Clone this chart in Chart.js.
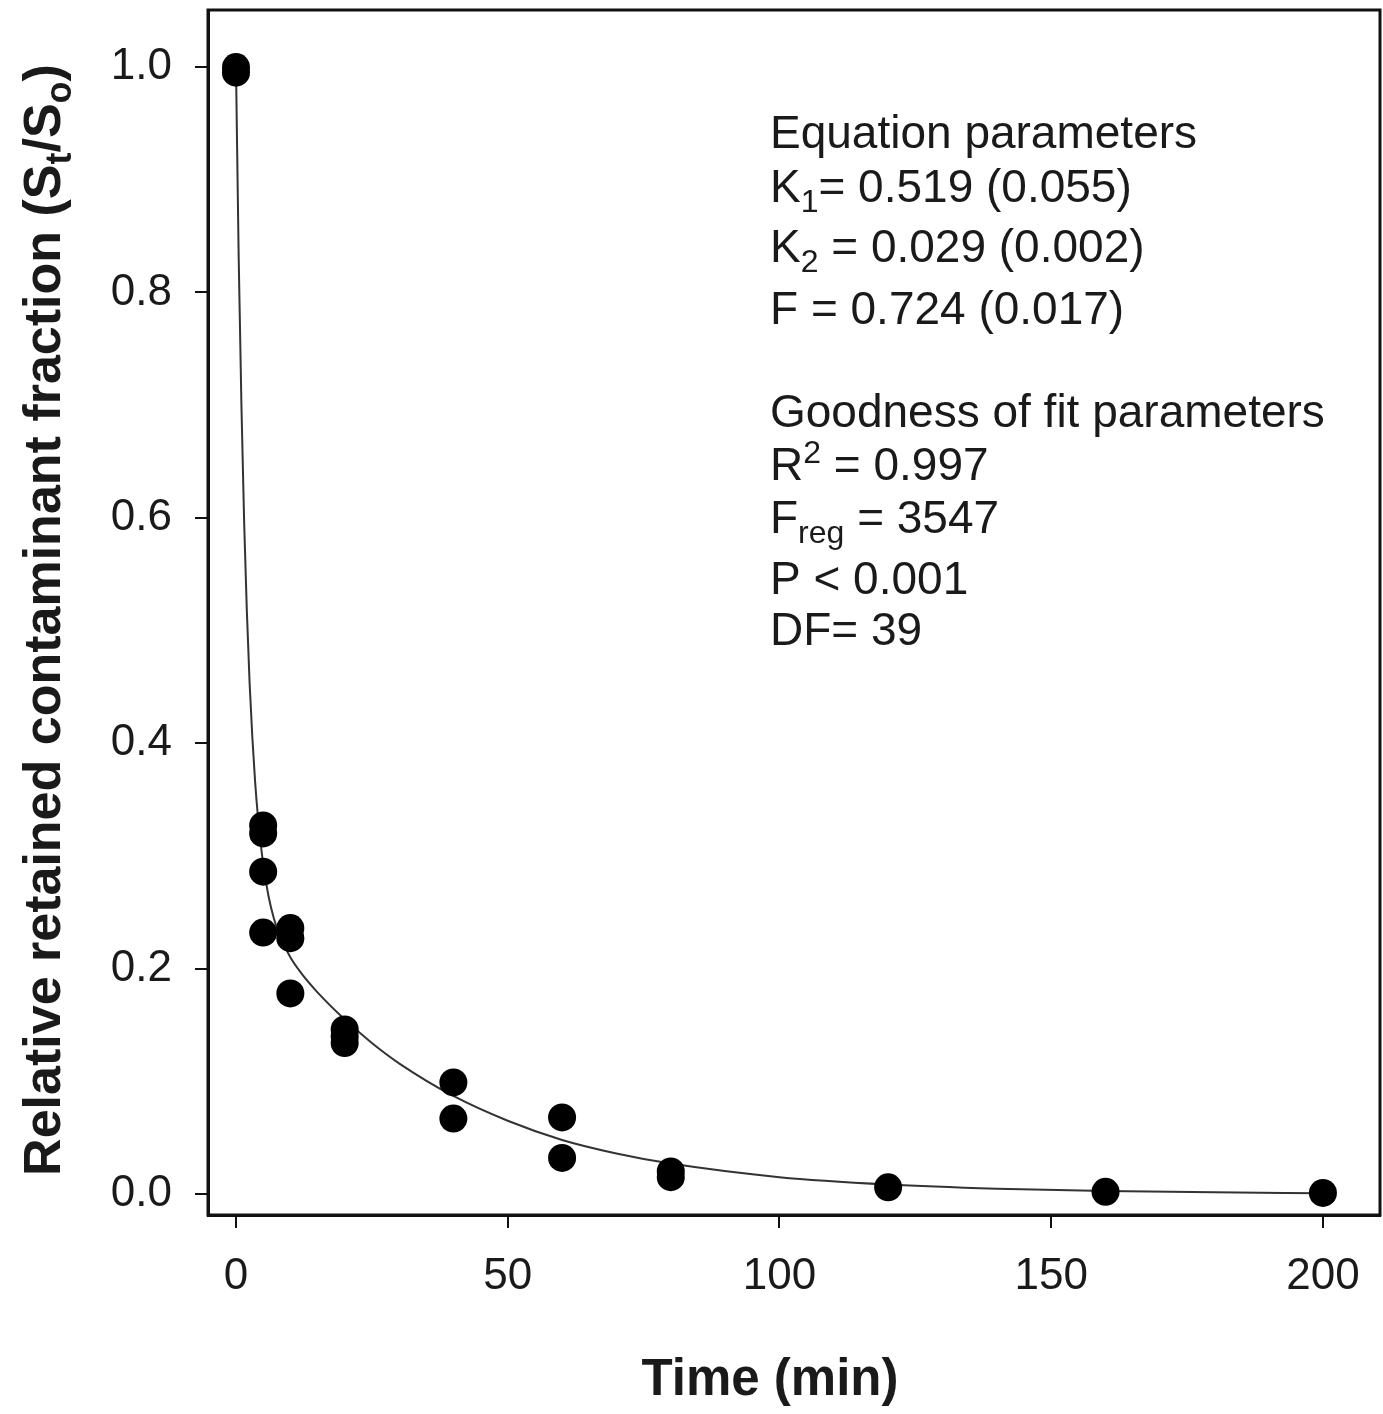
<!DOCTYPE html>
<html>
<head>
<meta charset="utf-8">
<script src="https://cdn.jsdelivr.net/npm/chart.js@4.4.0/dist/chart.umd.min.js"></script>
<style>
    html, body { margin: 0; padding: 0; background: #fff; }
    #wrap { width: 1383px; height: 1414px; }
</style>
</head>
<body>
<div id="wrap"><canvas id="decayChart" width="1383" height="1414"></canvas></div>
<script>
// Observed points: time (min) and relative retained fraction St/So
const obsTime = [0, 0, 5, 5, 5, 5, 10, 10, 10, 20, 20, 20, 40, 40, 60, 60, 80, 80, 120, 160, 200];
const obsFraction = [1.0, 0.995, 0.327, 0.320, 0.286, 0.232, 0.236, 0.227, 0.178, 0.146, 0.140, 0.134,
    0.099, 0.067, 0.068, 0.032, 0.020, 0.015, 0.006, 0.002, 0.001];

// Fitted two-compartment curve
const fitTime = [0, 0.5, 1, 1.5, 2, 2.5, 3, 3.5, 4, 5, 6, 7, 8, 10, 12, 15, 20, 25, 30, 40,
    50, 60, 70, 80, 100, 120, 140, 160, 180, 200];
const fitFraction = [1.0, 0.83, 0.70, 0.596, 0.517, 0.454, 0.406, 0.367, 0.337, 0.293, 0.264, 0.244,
    0.230, 0.210, 0.196, 0.179, 0.155, 0.134, 0.116, 0.087, 0.065, 0.048, 0.036, 0.027, 0.015,
    0.0085, 0.0048, 0.0027, 0.0015, 0.0008];

// Axis ticks
const xTicks = [0, 50, 100, 150, 200];
const yTicks = [0, 0.2, 0.4, 0.6, 0.8, 1.0];

// Text
const xTitleRuns = [['Time (min)']];
const yTitleRuns = [['Relative retained contaminant fraction (S'], ['t', 'sub'], ['/S'], ['o', 'sub'], [')']];
const noteLines = [
    [['Equation parameters']],
    [['K'], ['1', 'sub'], ['= 0.519 (0.055)']],
    [['K'], ['2', 'sub'], [' = 0.029 (0.002)']],
    [['F = 0.724 (0.017)']],
    [['Goodness of fit parameters']],
    [['R'], ['2', 'sup'], [' = 0.997']],
    [['F'], ['reg', 'sub'], [' = 3547']],
    [['P < 0.001']],
    [['DF= 39']]
];

const FONT = '"Liberation Sans", Arial, sans-serif';
const INK = '#1a1a1a';

// Draw a list of text runs with sub/superscripts, returns total width
function drawRuns(ctx, runs, x, y, size, weight, measureOnly) {
    let cx = x;
    runs.forEach(([text, kind]) => {
        const s = kind ? Math.round(size * 0.7) : size;
        const dy = kind === 'sub' ? size * 0.22 : kind === 'sup' ? -size * 0.36 : 0;
        ctx.font = `${weight} ${s}px ${FONT}`;
        if (!measureOnly) ctx.fillText(text, cx, y + dy);
        cx += ctx.measureText(text).width;
    });
    return cx - x;
}

const textPlugin = {
    id: 'textPlugin',
    afterDraw(chart) {
        const ctx = chart.ctx;
        const area = chart.chartArea;

        // frame round the plot area
        ctx.save();
        ctx.strokeStyle = '#111';
        ctx.lineWidth = 3;
        ctx.strokeRect(area.left, area.top, area.right - area.left, area.bottom - area.top);
        ctx.restore();

        ctx.save();
        ctx.fillStyle = INK;
        ctx.textBaseline = 'alphabetic';
        ctx.textAlign = 'left';

        // x title
        const xw = drawRuns(ctx, xTitleRuns, 0, 0, 51, 'bold', true);
        drawRuns(ctx, xTitleRuns, 770 - xw / 2, 1395, 51, 'bold', false);

        // y title, rotated
        const yw = drawRuns(ctx, yTitleRuns, 0, 0, 52, 'bold', true);
        ctx.translate(60, 620);
        ctx.rotate(-Math.PI / 2);
        drawRuns(ctx, yTitleRuns, -yw / 2, 0, 52, 'bold', false);
        ctx.restore();

        // parameter notes
        const baselines = [148, 202, 262, 324, 427, 480, 533, 594, 645];
        ctx.save();
        ctx.fillStyle = INK;
        ctx.textBaseline = 'alphabetic';
        ctx.textAlign = 'left';
        noteLines.forEach((runs, i) => drawRuns(ctx, runs, 770, baselines[i], 46, 'normal', false));
        ctx.restore();
    }
};

const ctx = document.getElementById('decayChart').getContext('2d');
new Chart(ctx, {
    type: 'scatter',
    data: {
        datasets: [
            {
                label: 'Observed',
                data: obsTime.map((t, i) => ({ x: t, y: obsFraction[i] })),
                backgroundColor: '#000',
                borderWidth: 0,
                pointRadius: 14,
                pointHoverRadius: 14,
                order: 0
            },
            {
                label: 'Fit',
                data: fitTime.map((t, i) => ({ x: t, y: fitFraction[i] })),
                showLine: true,
                borderColor: '#333',
                borderWidth: 2,
                pointRadius: 0,
                cubicInterpolationMode: 'monotone',
                order: 1
            }
        ]
    },
    options: {
        responsive: false,
        animation: false,
        layout: { autoPadding: false, padding: { top: 10, right: 3, left: 0, bottom: 0 } },
        plugins: {
            legend: { display: false },
            tooltip: { enabled: false }
        },
        scales: {
            x: {
                type: 'linear',
                min: -5.15,
                max: 210.5,
                afterBuildTicks: s => { s.ticks = xTicks.map(v => ({ value: v })); },
                afterFit: s => { s.height = 199; s.paddingLeft = 0; s.paddingRight = 0; },
                ticks: {
                    font: { family: FONT, size: 44 },
                    color: INK,
                    padding: 22,
                    maxRotation: 0,
                    callback: v => String(v)
                },
                grid: { drawOnChartArea: false, drawTicks: true, tickLength: 13, color: '#111', lineWidth: 2 },
                border: { display: true, color: '#111', width: 3 }
            },
            y: {
                type: 'linear',
                min: -0.0186,
                max: 1.0506,
                afterBuildTicks: s => { s.ticks = yTicks.map(v => ({ value: v })); },
                afterFit: s => { s.width = 208; s.paddingTop = 0; s.paddingBottom = 0; },
                ticks: {
                    font: { family: FONT, size: 44 },
                    color: INK,
                    padding: 23,
                    callback: v => v.toFixed(1)
                },
                grid: { drawOnChartArea: false, drawTicks: true, tickLength: 13, color: '#111', lineWidth: 2 },
                border: { display: true, color: '#111', width: 3 }
            }
        }
    },
    plugins: [textPlugin]
});
</script>
</body>
</html>
